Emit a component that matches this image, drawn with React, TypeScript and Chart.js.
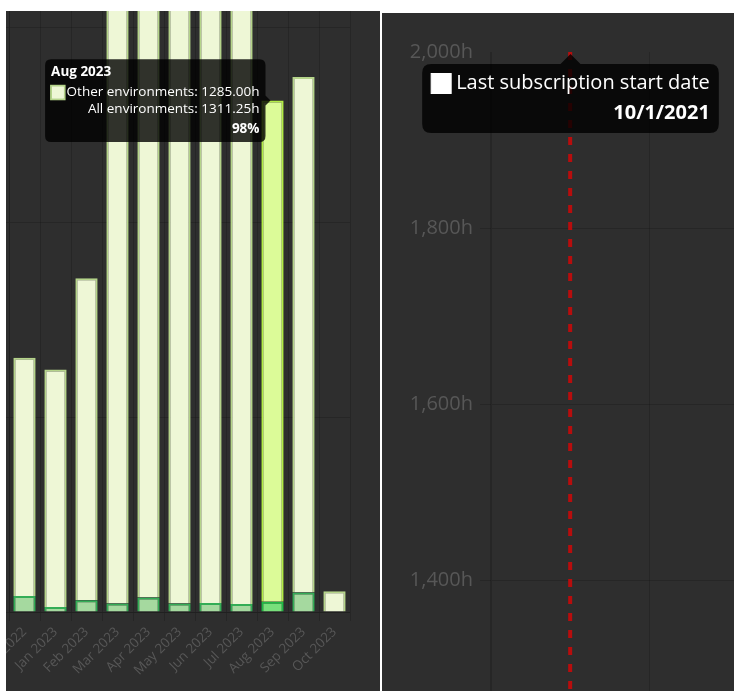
import React, { useEffect, useRef } from 'react';
import { Chart, registerables, Tooltip } from 'chart.js';

Chart.register(...registerables);
Chart.defaults.font.family = "'Open Sans', sans-serif";

(Tooltip as any).positioners.elementTop = function (items: any[]) {
  if (!items.length) return false;
  const el = items[0].element;
  return { x: el.x, y: el.y };
};

// ---------- Left chart data ----------
const months = ['Dec 2022', 'Jan 2023', 'Feb 2023', 'Mar 2023', 'Apr 2023', 'May 2023', 'Jun 2023', 'Jul 2023', 'Aug 2023', 'Sep 2023', 'Oct 2023'];
const thisEnvHours = [41, 13, 30, 21.5, 37.5, 21.5, 23, 20.5, 26.25, 50, 0];
const otherEnvHours = [611, 609, 826, 1850, 1900, 1880, 1920, 1870, 1285, 1322, 53];
const hoursTicks = { min: 0, max: 2000, step: 500 };
const activeMonth = 'Aug 2023';

// ---------- Right chart data ----------
const rightMonths = ['Oct 2021', 'Nov 2021', 'Dec 2021'];
const markerMonth = 'Oct 2021';
const markerSpan = [2000, 1200];
const rightTicks = { min: 1200, max: 2000, step: 200 };
const markerLabel = 'Last subscription start date';
const markerDateText = '10/1/2021';

const BG = '#2e2e2e';
const GRID = 'rgba(0,0,0,0.16)';
const TICK = '#575757';

const fmtHours = (v: number | string) => Number(v).toLocaleString('en-US') + 'h';

function UsageBars() {
  const ref = useRef<HTMLCanvasElement>(null);
  useEffect(() => {
    const chart = new Chart(ref.current!, {
      type: 'bar',
      data: {
        labels: months,
        datasets: [
          {
            label: 'This environment',
            data: thisEnvHours,
            backgroundColor: '#a5d99f',
            borderColor: '#33ad56',
            hoverBackgroundColor: '#78e07b',
            hoverBorderColor: '#1fba45',
            borderWidth: 2,
            hoverBorderWidth: 2,
          },
          {
            label: 'Other environments',
            data: otherEnvHours,
            backgroundColor: '#eef7d6',
            borderColor: '#b5d48a',
            hoverBackgroundColor: '#dcfb98',
            hoverBorderColor: '#b2ec45',
            borderWidth: 2,
            hoverBorderWidth: 2,
          },
        ],
      },
      options: {
        responsive: false,
        animation: false,
        events: [],
        layout: { padding: { top: 20, right: 30, left: 0, bottom: 0 } },
        scales: {
          x: {
            stacked: true,
            grid: { color: GRID, tickLength: 9 },
            border: { color: GRID },
            ticks: { color: TICK, font: { size: 13.5 }, minRotation: 45, maxRotation: 45, autoSkip: false },
            afterFit: (s: any) => { s.height = 80; },
          },
          y: {
            stacked: true,
            min: hoursTicks.min,
            max: hoursTicks.max,
            grid: { color: GRID },
            border: { color: GRID },
            ticks: { stepSize: hoursTicks.step, color: TICK, font: { size: 13.5 }, callback: (v: any) => fmtHours(v) },
            afterFit: (s: any) => { s.width = 60; },
          },
        },
        plugins: {
          legend: { display: false },
          tooltip: {
            position: 'elementTop' as any,
            xAlign: 'right',
            yAlign: 'center',
            backgroundColor: 'rgba(0,0,0,0.8)',
            padding: 6,
            caretSize: 5,
            caretPadding: 2,
            cornerRadius: 6,
            titleFont: { size: 13.5, weight: 'bold', lineHeight: 1.05 },
            bodyFont: { size: 13.5, lineHeight: 1.05 },
            footerFont: { size: 13.5, weight: 'bold', lineHeight: 1.05 },
            bodyAlign: 'right',
            footerAlign: 'right',
            titleMarginBottom: 6,
            footerMarginTop: 6,
            bodySpacing: 2,
            callbacks: {
              label: (ctx: any) => `${ctx.dataset.label}: ${Number(ctx.parsed.y).toFixed(2)}h`,
              afterLabel: (ctx: any) => {
                const i = ctx.dataIndex;
                const total = thisEnvHours[i] + otherEnvHours[i];
                return `All environments: ${total.toFixed(2)}h`;
              },
              footer: (items: any[]) => {
                const i = items[0].dataIndex;
                const total = thisEnvHours[i] + otherEnvHours[i];
                return `${Math.round((otherEnvHours[i] / total) * 100)}%`;
              },
            },
          },
        },
      },
    } as any);
    const idx = months.indexOf(activeMonth);
    chart.setActiveElements([
      { datasetIndex: 0, index: idx },
      { datasetIndex: 1, index: idx },
    ]);
    chart.tooltip!.setActiveElements([{ datasetIndex: 1, index: idx }], { x: 0, y: 0 });
    chart.update();
    return () => chart.destroy();
  }, []);
  return <canvas ref={ref} width={431} height={880} style={{ display: 'block', width: 431, height: 880 }} />;
}

function SubscriptionMarker() {
  const ref = useRef<HTMLCanvasElement>(null);
  useEffect(() => {
    const chart = new Chart(ref.current!, {
      type: 'line',
      data: {
        labels: rightMonths,
        datasets: [
          {
            label: markerLabel,
            data: markerSpan.map((y) => ({ x: markerMonth, y })),
            borderColor: '#b80d0d',
            borderWidth: 4,
            borderDash: [8, 9],
            pointRadius: 0,
            fill: false,
          },
        ],
      },
      options: {
        responsive: false,
        animation: false,
        events: [],
        layout: { padding: { top: 39, right: 0, left: 0, bottom: 0 } },
        scales: {
          x: {
            offset: true,
            grid: { color: GRID, offset: true, tickLength: 11 },
            border: { color: GRID },
            ticks: { color: TICK, font: { size: 20 } },
            afterFit: (s: any) => { s.height = 60; },
          },
          y: {
            min: rightTicks.min,
            max: rightTicks.max,
            grid: {
              color: (c: any) => (c.tick && c.tick.value === rightTicks.max ? 'rgba(0,0,0,0)' : GRID),
              tickLength: 11,
            },
            border: { color: GRID },
            ticks: { stepSize: rightTicks.step, color: TICK, padding: 7, font: { size: 20 }, callback: (v: any) => fmtHours(v) },
            afterFit: (s: any) => { s.width = 109; },
          },
        },
        plugins: {
          legend: { display: false },
          tooltip: {
            position: 'elementTop' as any,
            xAlign: 'center',
            yAlign: 'top',
            backgroundColor: 'rgba(0,0,0,0.8)',
            padding: 9,
            caretSize: 10,
            caretPadding: 2,
            cornerRadius: 9,
            bodyFont: { size: 20, lineHeight: 1.05 },
            footerFont: { size: 20, weight: 'bold', lineHeight: 1.05 },
            footerAlign: 'right',
            footerMarginTop: 9,
            boxWidth: 20,
            boxHeight: 20,
            boxPadding: 3,
            callbacks: {
              title: () => [],
              label: () => markerLabel,
              footer: () => markerDateText,
              labelColor: () => ({ borderColor: '#ffffff', backgroundColor: '#ffffff', borderWidth: 1 }),
            },
          },
        },
      },
    } as any);
    chart.tooltip!.setActiveElements([{ datasetIndex: 0, index: 0 }], { x: 0, y: 0 });
    chart.update();
    return () => chart.destroy();
  }, []);
  return <canvas ref={ref} width={586} height={803} style={{ display: 'block', width: 586, height: 803 }} />;
}

export default function App() {
  return (
    <div style={{ position: 'fixed', left: 0, top: 0, width: 734, height: 691, background: '#ffffff', overflow: 'hidden' }}>
      <div style={{ position: 'absolute', left: 6, top: 11, width: 374, height: 680, background: BG, overflow: 'hidden' }}>
        <div style={{ position: 'absolute', left: -57, top: -199 }}>
          <UsageBars />
        </div>
      </div>
      <div style={{ position: 'absolute', left: 382, top: 13, width: 352, height: 678, background: BG, overflow: 'hidden' }}>
        <div style={{ position: 'absolute', left: 0, top: 0 }}>
          <SubscriptionMarker />
        </div>
      </div>
    </div>
  );
}
